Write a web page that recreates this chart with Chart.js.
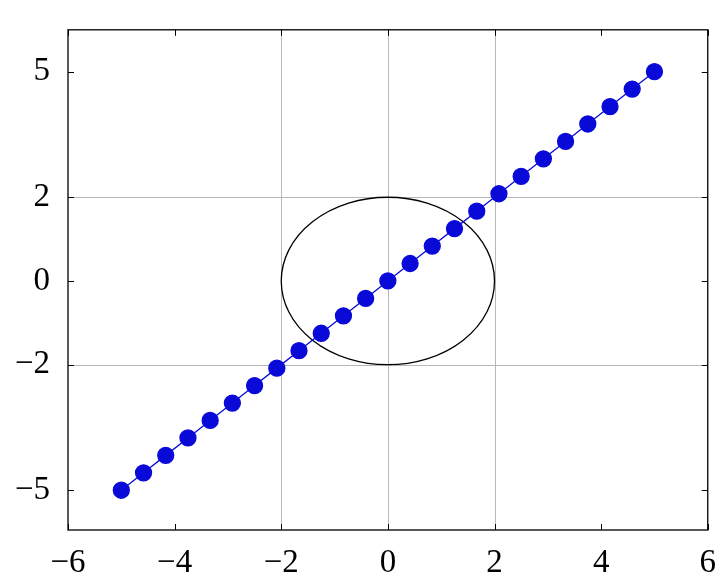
<!DOCTYPE html>
<html><head><meta charset="utf-8">
<script src="https://cdn.jsdelivr.net/npm/chart.js@4/dist/chart.umd.min.js"></script>
<style>html,body{margin:0;padding:0;background:#fff}#w{width:722px;height:578px}</style>
</head><body><div id="w"><canvas id="c"></canvas></div>
<script>
const xValues=[-5,-4.583,-4.167,-3.75,-3.333,-2.917,-2.5,-2.083,-1.667,-1.25,-0.833,-0.417,0,0.417,0.833,1.25,1.667,2.083,2.5,2.917,3.333,3.75,4.167,4.583,5];
const yValues=[-5,-4.583,-4.167,-3.75,-3.333,-2.917,-2.5,-2.083,-1.667,-1.25,-0.833,-0.417,0,0.417,0.833,1.25,1.667,2.083,2.5,2.917,3.333,3.75,4.167,4.583,5];
const xTicks=[-6,-4,-2,0,2,4,6];
const yTicks=[-5,-2,0,2,5];
const xGrid=[-2,0,2];
const yGrid=[-2,2];
const circleRadius=2;
const blue='#0a0ad8';
const fmt=v=>(v<0?'\u2212'+Math.abs(v):''+v);
const deco={id:'deco',
 beforeDatasetsDraw(ch){const c=ch.ctx,a=ch.chartArea,x=ch.scales.x,y=ch.scales.y;
  c.save();c.strokeStyle='#b8b8b8';c.lineWidth=1;c.beginPath();
  xGrid.forEach(v=>{const p=Math.round(x.getPixelForValue(v))+0.5;c.moveTo(p,a.top);c.lineTo(p,a.bottom);});
  yGrid.forEach(v=>{const p=Math.round(y.getPixelForValue(v))+0.5;c.moveTo(a.left,p);c.lineTo(a.right,p);});
  c.stroke();
  c.strokeStyle='#000';c.lineWidth=1.3;c.beginPath();
  const cx=x.getPixelForValue(0),cy=y.getPixelForValue(0);
  c.ellipse(cx,cy,Math.abs(x.getPixelForValue(circleRadius)-cx),Math.abs(y.getPixelForValue(circleRadius)-cy),0,0,Math.PI*2);
  c.stroke();
  c.lineWidth=1;c.beginPath();const L=6;
  xTicks.forEach(v=>{const p=Math.round(x.getPixelForValue(v))+0.5;c.moveTo(p,a.bottom);c.lineTo(p,a.bottom-L);c.moveTo(p,a.top);c.lineTo(p,a.top+L);});
  yTicks.forEach(v=>{const p=Math.round(y.getPixelForValue(v))+0.5;c.moveTo(a.left,p);c.lineTo(a.left+L,p);c.moveTo(a.right,p);c.lineTo(a.right-L,p);});
  c.stroke();
  c.lineWidth=1.3;c.strokeRect(a.left,a.top,a.right-a.left,a.bottom-a.top);
  c.restore();}};
new Chart(document.getElementById('c'),{
 type:'scatter',
 data:{datasets:[{data:xValues.map((v,i)=>({x:v,y:yValues[i]})),showLine:true,borderColor:blue,borderWidth:1.3,
   backgroundColor:blue,pointBackgroundColor:blue,pointBorderColor:blue,pointRadius:8,pointHoverRadius:8}]},
 options:{responsive:true,maintainAspectRatio:false,animation:false,
  layout:{padding:{top:-18,right:13,left:0,bottom:0}},
  plugins:{legend:{display:false},tooltip:{enabled:false}},
  scales:{
   x:{type:'linear',min:-6,max:6,grid:{display:false},border:{display:false},
    afterBuildTicks:s=>{s.ticks=xTicks.map(v=>({value:v}));},
    afterFit:s=>{s.height=48;},
    ticks:{callback:fmt,color:'#000',padding:6,maxRotation:0,font:{family:'Liberation Serif',size:33}}},
   y:{type:'linear',min:-5.95,max:6,grid:{display:false},border:{display:false},
    afterBuildTicks:s=>{s.ticks=yTicks.map(v=>({value:v}));},
    afterFit:s=>{s.width=68;},
    ticks:{callback:fmt,color:'#000',padding:10,font:{family:'Liberation Serif',size:33}}}
  }},
 plugins:[deco]});
</script></body></html>
